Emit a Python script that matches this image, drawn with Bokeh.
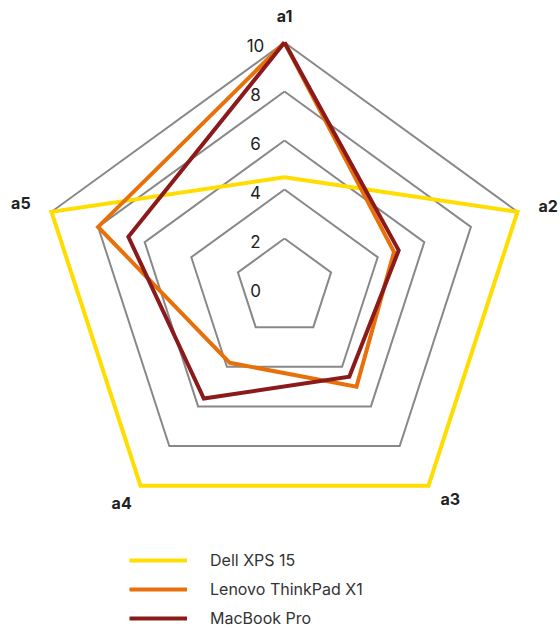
import numpy as np
from bokeh.plotting import figure
from bokeh.models import Range1d, Legend, LegendItem
from bokeh.core.properties import value
from bokeh.embed import file_html
from bokeh.resources import INLINE

# Radar axes, rings and series scores
axis_names = ["a1", "a2", "a3", "a4", "a5"]
tick_values = [0, 2, 4, 6, 8, 10]
ring_values = [2, 4, 6, 8, 10]
series_names = ["Dell XPS 15", "Lenovo ThinkPad X1", "MacBook Pro"]
dell = [4.5, 10, 10, 10, 10]
lenovo = [10, 4.7, 5, 3.8, 8]
macbook = [10, 4.9, 4.5, 5.6, 6.7]
series_colors = ["#FFDD00", "#E8700A", "#8B1A1A"]

W, H = 560, 628
CX, CY = 284, 287      # pixel position of the radar centre
UNIT = 24.5            # pixels per score unit

angles = np.pi / 2 - 2 * np.pi * np.arange(len(axis_names)) / len(axis_names)


def closed_polygon(vals):
    v = np.asarray(vals, dtype=float)
    xs = v * np.cos(angles)
    ys = v * np.sin(angles)
    return list(xs) + [xs[0]], list(ys) + [ys[0]]


p = figure(
    width=W, height=H,
    x_range=Range1d(-CX / UNIT, (W - CX) / UNIT),
    y_range=Range1d(-(H - CY) / UNIT, CY / UNIT),
    x_axis_type=None, y_axis_type=None,
    output_backend="svg", toolbar_location=None,
    min_border=0,
)
p.grid.visible = False
p.outline_line_color = None
p.background_fill_color = "white"

# concentric pentagon grid
for rv in ring_values:
    gx, gy = closed_polygon([rv] * len(axis_names))
    p.line(gx, gy, line_color="#888888", line_width=2, line_join="miter")

# radial tick labels along the first axis
p.text(
    x=[0] * len(tick_values), y=tick_values,
    text=[str(t) for t in tick_values],
    x_offset=-29, y_offset=3,
    text_align="center", text_baseline="middle",
    text_font=value("Inter"), text_font_size="17px", text_color="#222222",
)

# axis names around the outside, nudged clear of the outer ring
name_r = 11.1
p.text(
    x=list(name_r * np.cos(angles)), y=list(name_r * np.sin(angles)),
    text=axis_names,
    x_offset=[0, 5, 6, -3, -5], y_offset=[0, 3, -9, -5, 0],
    text_align="center", text_baseline="middle",
    text_font=value("Inter"), text_font_size="16px", text_font_style="bold",
    text_color="#222222",
)

# data series
renderers = []
for vals, col in zip([dell, lenovo, macbook], series_colors):
    sx, sy = closed_polygon(vals)
    r = p.line(sx, sy, line_color=col, line_width=4, line_join="miter")
    renderers.append(r)

legend = Legend(
    items=[LegendItem(label=n, renderers=[r]) for n, r in zip(series_names, renderers)],
    location=(129, 0),
    orientation="vertical",
    glyph_width=58, glyph_height=20, label_height=20,
    spacing=9, label_standoff=23,
    padding=0, margin=0,
    border_line_color=None, background_fill_alpha=0,
    label_text_font="Inter", label_text_font_size="16px",
    label_text_color="#333333",
)
p.add_layout(legend)

open("out.html", "w").write(file_html(p, INLINE))
